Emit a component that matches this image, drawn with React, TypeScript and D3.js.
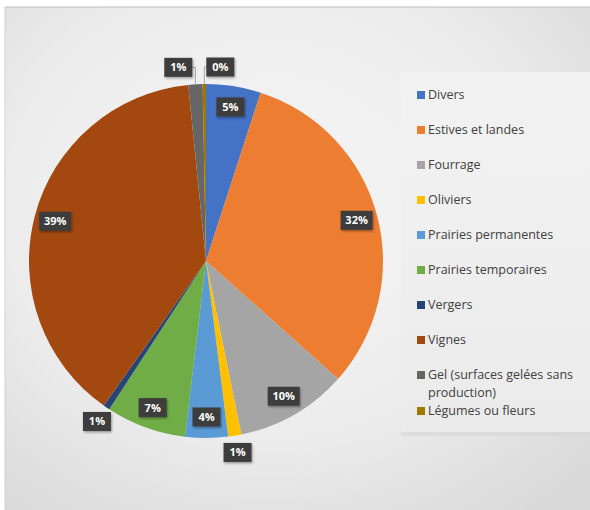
import React from "react";
import * as d3 from "d3";

const categories = [
  "Divers",
  "Estives et landes",
  "Fourrage",
  "Oliviers",
  "Prairies permanentes",
  "Prairies temporaires",
  "Vergers",
  "Vignes",
  "Gel (surfaces gelées sans production)",
  "Légumes ou fleurs",
];
const values = [5.0, 31.6, 10.2, 1.2, 3.9, 7.3, 0.6, 38.6, 1.3, 0.3];
const labels = ["5%", "32%", "10%", "1%", "4%", "7%", "1%", "39%", "1%", "0%"];
const legendLines = [
  ["Divers"],
  ["Estives et landes"],
  ["Fourrage"],
  ["Oliviers"],
  ["Prairies permanentes"],
  ["Prairies temporaires"],
  ["Vergers"],
  ["Vignes"],
  ["Gel (surfaces gelées sans", "production)"],
  ["Légumes ou fleurs"],
];
const colors = [
  "#4472C4",
  "#ED7D31",
  "#A5A5A5",
  "#FFC000",
  "#5B9BD5",
  "#70AD47",
  "#264478",
  "#A3480F",
  "#666666",
  "#A07800",
];

export default function App() {
  const W = 590;
  const H = 510;
  const cx = 206;
  const cy = 261;
  const R = 177;
  const pie = d3.pie<number>().sort(null).value((d) => d)(values);
  const arc = d3.arc<d3.PieArcDatum<number>>().innerRadius(0).outerRadius(R);

  const boxW = 28;
  const boxH = 19;
  const items = pie.map((p, i) => {
    const mid = (p.startAngle + p.endAngle) / 2;
    const outside = values[i] < 2;
    const r = outside ? 194 : 156;
    return {
      i,
      mid,
      outside,
      x: cx + r * Math.sin(mid),
      y: cy - r * Math.cos(mid),
      ex: cx + R * Math.sin(mid),
      ey: cy - R * Math.cos(mid),
      w: labels[i].length > 2 ? 32 : boxW,
    };
  });
  // resolve overlapping outside labels horizontally
  const outs = items.filter((d) => d.outside).sort((a, b) => a.x - b.x);
  for (let k = 1; k < outs.length; k++) {
    const a = outs[k - 1];
    const b = outs[k];
    if (Math.abs(a.y - b.y) < boxH + 2 && b.x - a.x < 42) {
      const m = (a.x + b.x) / 2;
      a.x = m - 21;
      b.x = m + 21;
    }
  }

  const legendX = 417;
  const legendY0 = 95;
  let ly = legendY0;
  const legendPos: number[] = [];
  legendLines.forEach((ls, i) => {
    legendPos.push(ly);
    ly += ls.length > 1 ? 18 * ls.length : 35;
  });

  return (
    <svg
      width={W}
      height={H}
      style={{ position: "absolute", left: 0, top: 0 }}
      fontFamily="'Open Sans', 'Liberation Sans', sans-serif"
    >
      <defs>
        <radialGradient id="bg" cx="0.45" cy="0.4" r="0.75">
          <stop offset="0" stopColor="#f6f6f6" />
          <stop offset="0.6" stopColor="#ececec" />
          <stop offset="1" stopColor="#d9d9d9" />
        </radialGradient>
        <linearGradient id="lg" x1="0" y1="0" x2="0" y2="1">
          <stop offset="0" stopColor="#f2f2f2" />
          <stop offset="1" stopColor="#ebebeb" />
        </linearGradient>
        <filter id="sh" x="-20%" y="-20%" width="150%" height="160%">
          <feDropShadow dx="1" dy="1.5" stdDeviation="1.2" floodColor="#000" floodOpacity="0.35" />
        </filter>
      </defs>
      <rect x={0} y={0} width={W} height={H} fill="#ffffff" />
      <rect x={5} y={7} width={W - 5} height={H - 7} fill="url(#bg)" />
      <line x1={5} y1={7} x2={W} y2={7} stroke="#bdbdbd" strokeWidth={1} />
      <line x1={5} y1={7} x2={5} y2={H} stroke="#cfcfcf" strokeWidth={1} />
      <rect x={401} y={72} width={W - 401} height={360} fill="url(#lg)" />
      <rect x={401} y={432} width={W - 401} height={4} fill="#d6d6d6" opacity={0.6} />

      <g transform={`translate(${cx},${cy})`}>
        {pie.map((p, i) => (
          <path key={i} d={arc(p) || ""} fill={colors[i]} />
        ))}
      </g>

      {items
        .filter((d) => d.outside)
        .map((d) => {
          const top = d.ey < cy;
          const ly2 = d.y;
          const side = d.x < d.ex ? d.x + d.w / 2 : d.x - d.w / 2;
          const gap = Math.hypot(d.x - d.ex, d.y - d.ey);
          if (!top || gap < 20) return null;
          return (
            <polyline
              key={"l" + d.i}
              points={`${side},${ly2} ${d.ex},${ly2} ${d.ex},${d.ey}`}
              fill="none"
              stroke="#a6a6a6"
              strokeWidth={1}
            />
          );
        })}

      {items.map((d) => (
        <g key={"t" + d.i} transform={`translate(${d.x},${d.y})`}>
          <rect
            x={-d.w / 2}
            y={-boxH / 2}
            width={d.w}
            height={boxH}
            fill="#3d3d3d"
            filter="url(#sh)"
          />
          <text
            x={0}
            y={0}
            dy="0.36em"
            textAnchor="middle"
            fill="#ffffff"
            fontSize={11}
            fontWeight="bold"
          >
            {labels[d.i]}
          </text>
        </g>
      ))}

      {categories.map((c, i) => (
        <g key={"g" + i} transform={`translate(${legendX},${legendPos[i]})`}>
          <rect x={0} y={-4} width={8} height={8} fill={colors[i]} />
          {legendLines[i].map((t, k) => (
            <text
              key={k}
              x={11 - (k > 0 ? 0 : 0)}
              y={k * 18}
              dy="0.35em"
              fontSize={12.5}
              fill="#404040"
            >
              {t}
            </text>
          ))}
        </g>
      ))}
    </svg>
  );
}
